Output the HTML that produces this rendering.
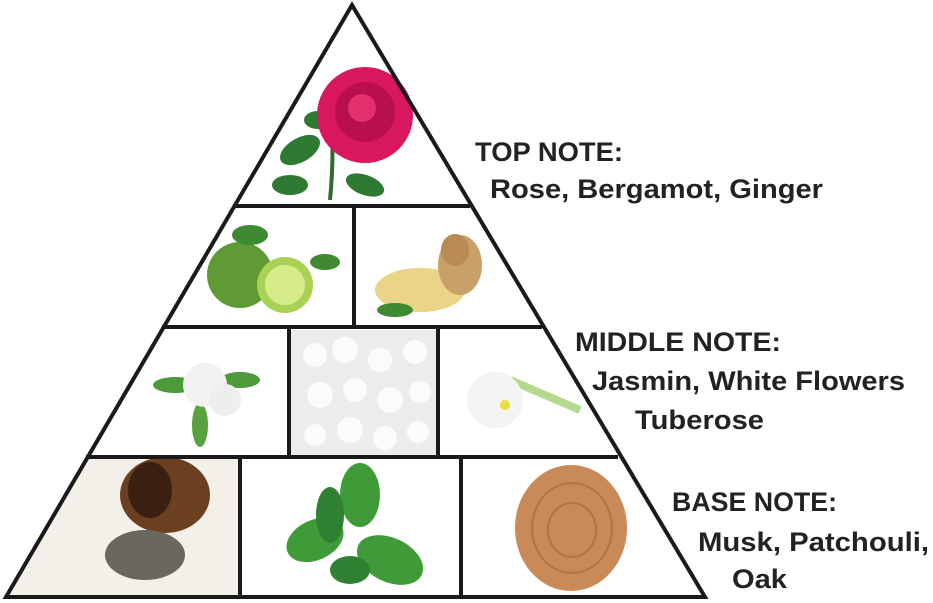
<!DOCTYPE html>
<html><head><meta charset="utf-8"><style>html,body{margin:0;padding:0;background:#fff}svg{display:block}</style></head><body>
<svg width="933" height="603" viewBox="0 0 933 603" xmlns="http://www.w3.org/2000/svg">
<rect width="933" height="603" fill="#fff"/>
<!-- rose -->
<path d="M330 200 Q335 150 330 100" stroke="#2f6b2a" stroke-width="4" fill="none"/>
<ellipse cx="300" cy="150" rx="22" ry="12" fill="#2e7a32" transform="rotate(-30 300 150)"/>
<ellipse cx="290" cy="185" rx="18" ry="10" fill="#2e7a32"/>
<ellipse cx="365" cy="185" rx="20" ry="10" fill="#2e7a32" transform="rotate(20 365 185)"/>
<ellipse cx="318" cy="120" rx="14" ry="9" fill="#2e7a32"/>
<circle cx="365" cy="115" r="48" fill="#d8175e"/>
<circle cx="365" cy="112" r="30" fill="#b90f4c"/>
<circle cx="362" cy="108" r="14" fill="#e3306f"/>
<!-- bergamot -->
<circle cx="240" cy="275" r="33" fill="#5f9a34"/>
<ellipse cx="250" cy="235" rx="18" ry="10" fill="#3e8a30"/>
<circle cx="285" cy="285" r="28" fill="#a8d254"/>
<circle cx="285" cy="285" r="20" fill="#d6ec8a"/>
<ellipse cx="325" cy="262" rx="15" ry="8" fill="#3e8a30"/>
<!-- ginger -->
<ellipse cx="420" cy="290" rx="45" ry="22" fill="#ead488"/>
<ellipse cx="460" cy="265" rx="22" ry="30" fill="#c7a06a"/>
<ellipse cx="455" cy="250" rx="14" ry="16" fill="#b88b55"/>
<ellipse cx="395" cy="310" rx="18" ry="7" fill="#3f8a30"/>
<!-- jasmine -->
<ellipse cx="175" cy="385" rx="22" ry="8" fill="#4c9a3a"/>
<ellipse cx="240" cy="380" rx="20" ry="8" fill="#4c9a3a"/>
<ellipse cx="200" cy="425" rx="8" ry="22" fill="#5aa23f"/>
<circle cx="205" cy="385" r="22" fill="#f2f2f0"/>
<circle cx="225" cy="400" r="16" fill="#eeeeec"/>
<!-- white flowers -->
<rect x="290" y="330" width="147" height="125" fill="#ececec"/>
<g fill="#fbfbfb">
<circle cx="315" cy="355" r="12"/><circle cx="345" cy="350" r="13"/><circle cx="380" cy="360" r="12"/><circle cx="415" cy="352" r="12"/>
<circle cx="320" cy="395" r="13"/><circle cx="355" cy="390" r="12"/><circle cx="390" cy="400" r="13"/><circle cx="420" cy="392" r="11"/>
<circle cx="315" cy="435" r="11"/><circle cx="350" cy="430" r="13"/><circle cx="385" cy="438" r="12"/><circle cx="418" cy="432" r="11"/>
</g>
<!-- tuberose -->
<path d="M510 380 L580 410" stroke="#b5d98c" stroke-width="8"/>
<circle cx="495" cy="400" r="28" fill="#f4f4f2"/>
<circle cx="505" cy="405" r="5" fill="#e8e040"/>
<!-- musk -->
<polygon points="86,457 238,457 238,596 6,596" fill="#f3f0ea"/>
<ellipse cx="165" cy="495" rx="45" ry="38" fill="#6b4020"/>
<ellipse cx="150" cy="490" rx="22" ry="28" fill="#3a2010"/>
<ellipse cx="145" cy="555" rx="40" ry="25" fill="#6a6660"/>
<!-- patchouli -->
<g fill="#3f9a38">
<ellipse cx="360" cy="495" rx="20" ry="32"/>
<ellipse cx="315" cy="540" rx="30" ry="20" transform="rotate(-25 315 540)"/>
<ellipse cx="390" cy="560" rx="35" ry="22" transform="rotate(25 390 560)"/>
<ellipse cx="330" cy="515" rx="14" ry="28" fill="#2f8030"/>
<ellipse cx="350" cy="570" rx="20" ry="14" fill="#2f8030"/>
</g>
<!-- oak -->
<ellipse cx="571" cy="528" rx="56" ry="63" fill="#c98a57"/>
<ellipse cx="572" cy="528" rx="40" ry="45" fill="none" stroke="#b27445" stroke-width="2"/>
<ellipse cx="572" cy="530" rx="24" ry="27" fill="none" stroke="#b27445" stroke-width="2"/>
<g stroke="#1a1a1a" stroke-width="4" fill="none" stroke-linejoin="miter">
<polygon points="352,5 6,597 705,597"/>
<line x1="233" y1="206" x2="470" y2="206"/>
<line x1="162" y1="327" x2="542" y2="327"/>
<line x1="86" y1="457" x2="618" y2="457"/>
<line x1="354" y1="206" x2="354" y2="327"/>
<line x1="289" y1="327" x2="289" y2="457"/>
<line x1="438" y1="327" x2="438" y2="457"/>
<line x1="240" y1="457" x2="240" y2="597"/>
<line x1="461" y1="457" x2="461" y2="597"/>
</g>
<g font-family="Liberation Sans, sans-serif" font-size="27" font-weight="bold" fill="#222">
<text x="475" y="161" textLength="148" lengthAdjust="spacingAndGlyphs">TOP NOTE:</text>
<text x="490" y="198" textLength="333" lengthAdjust="spacingAndGlyphs">Rose, Bergamot, Ginger</text>
<text x="575" y="351" textLength="206" lengthAdjust="spacingAndGlyphs">MIDDLE NOTE:</text>
<text x="592" y="390" textLength="313" lengthAdjust="spacingAndGlyphs">Jasmin, White Flowers</text>
<text x="635" y="429" textLength="129" lengthAdjust="spacingAndGlyphs">Tuberose</text>
<text x="672" y="511" textLength="165" lengthAdjust="spacingAndGlyphs">BASE NOTE:</text>
<text x="698" y="551" textLength="231" lengthAdjust="spacingAndGlyphs">Musk, Patchouli,</text>
<text x="732" y="588" textLength="55" lengthAdjust="spacingAndGlyphs">Oak</text>
</g>
</svg>
</body></html>
